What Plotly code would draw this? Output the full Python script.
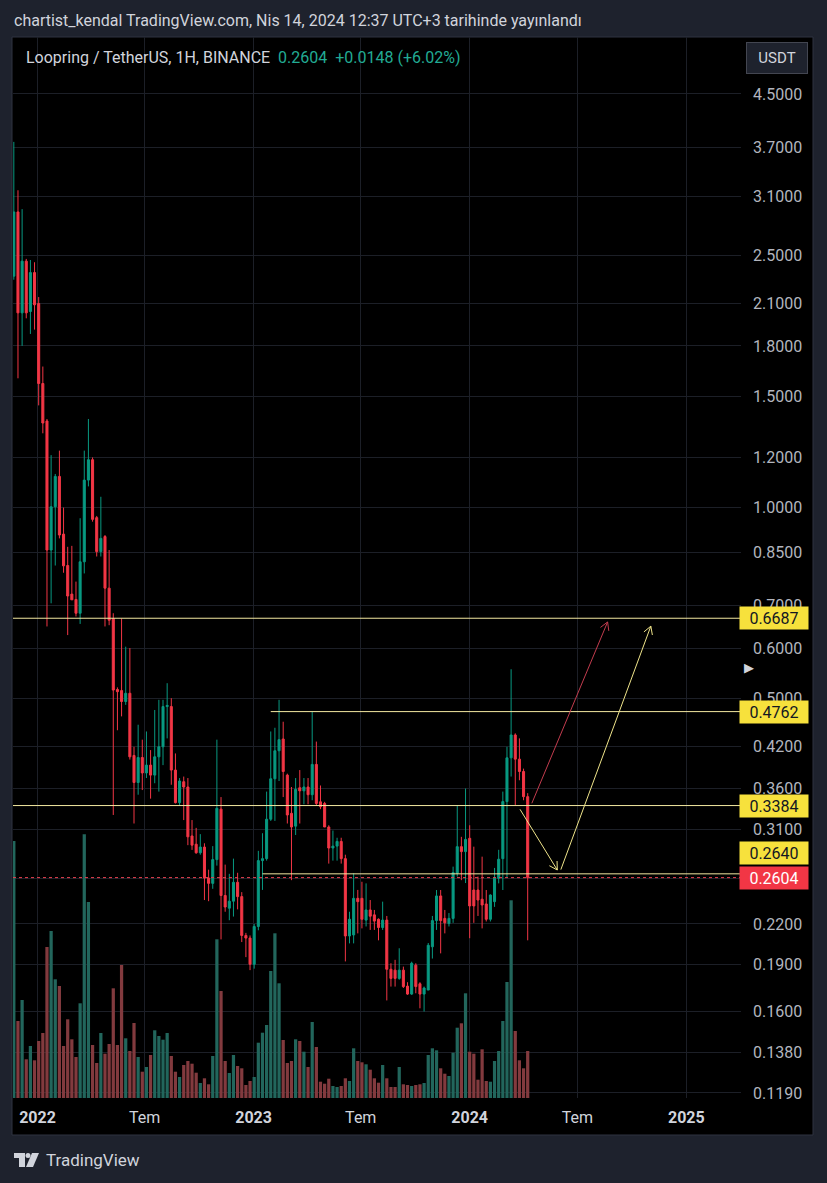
import math
import pandas as pd
import plotly.graph_objects as go

# ---------------- data (weekly candles, LRC/USDT) ----------------
first_week = "2021-11-22"
opens = [2.32, 2.93, 2.03, 2.45, 2.04, 2.35, 2.10, 1.57, 1.37, 0.857,
         1.003, 1.12, 0.908, 0.81, 0.73, 0.716, 0.681, 0.821, 1.105, 1.19,
         0.964, 0.852, 0.90, 0.746, 0.668, 0.516, 0.514, 0.494, 0.509, 0.406,
         0.368, 0.403, 0.381, 0.392, 0.378, 0.404, 0.419, 0.485, 0.485, 0.385,
         0.342, 0.369, 0.362, 0.303, 0.294, 0.285, 0.291, 0.260, 0.255, 0.278,
         0.334, 0.244, 0.233, 0.239, 0.256, 0.243, 0.211, 0.209, 0.190, 0.218,
         0.277, 0.279, 0.322, 0.373, 0.413, 0.431, 0.378, 0.329, 0.314, 0.361,
         0.357, 0.362, 0.352, 0.393, 0.343, 0.341, 0.313, 0.290, 0.292, 0.297,
         0.279, 0.2106, 0.2114, 0.2415, 0.2415, 0.2231, 0.2315, 0.2274, 0.2238, 0.2172,
         0.2231, 0.1866, 0.186, 0.1805, 0.186, 0.1755, 0.1705, 0.1894, 0.177, 0.1705,
         0.173, 0.2025, 0.2227, 0.2436, 0.2245, 0.2203, 0.2245, 0.2645, 0.2914, 0.2862,
         0.3004, 0.2489, 0.2489, 0.2407, 0.2366, 0.2238, 0.2386, 0.2597, 0.279, 0.3433,
         0.4025, 0.4374, 0.4006, 0.383, 0.3495]
highs = [3.78, 3.17, 2.96, 2.47, 2.46, 2.44, 2.15, 1.67, 1.38, 1.21,
         1.13, 1.23, 1.0, 0.867, 0.87, 0.764, 0.962, 1.23, 1.38, 1.2,
         0.97, 1.04, 0.905, 0.857, 0.681, 0.52, 0.668, 0.603, 0.60, 0.419,
         0.454, 0.43, 0.443, 0.414, 0.479, 0.497, 0.497, 0.528, 0.50, 0.409,
         0.374, 0.376, 0.374, 0.321, 0.312, 0.305, 0.295, 0.268, 0.292, 0.43,
         0.349, 0.273, 0.264, 0.279, 0.265, 0.247, 0.213, 0.211, 0.22, 0.287,
         0.306, 0.356, 0.443, 0.449, 0.497, 0.459, 0.380, 0.362, 0.374, 0.385,
         0.374, 0.374, 0.476, 0.427, 0.364, 0.343, 0.315, 0.309, 0.301, 0.301,
         0.283, 0.230, 0.2645, 0.249, 0.2565, 0.255, 0.240, 0.2315, 0.2245, 0.2386,
         0.2265, 0.1907, 0.1931, 0.2014, 0.1884, 0.178, 0.1918, 0.1907, 0.178, 0.1752,
         0.2053, 0.2265, 0.2489, 0.2489, 0.2315, 0.2289, 0.2710, 0.339, 0.302, 0.360,
         0.315, 0.2914, 0.2614, 0.281, 0.2489, 0.245, 0.2697, 0.2881, 0.356, 0.419,
         0.5555, 0.44, 0.432, 0.387, 0.354]
lows = [2.29, 1.60, 1.80, 1.99, 1.88, 1.91, 1.45, 1.31, 0.649, 0.706,
        0.81, 0.894, 0.789, 0.629, 0.715, 0.673, 0.655, 0.787, 1.08, 0.95,
        0.837, 0.837, 0.649, 0.652, 0.327, 0.445, 0.468, 0.488, 0.40, 0.317,
        0.352, 0.358, 0.374, 0.347, 0.367, 0.356, 0.392, 0.432, 0.365, 0.341,
        0.339, 0.321, 0.293, 0.288, 0.284, 0.283, 0.240, 0.239, 0.250, 0.272,
        0.208, 0.230, 0.223, 0.226, 0.232, 0.206, 0.195, 0.186, 0.187, 0.215,
        0.249, 0.277, 0.32, 0.32, 0.37, 0.349, 0.317, 0.258, 0.304, 0.317,
        0.34, 0.34, 0.345, 0.339, 0.334, 0.313, 0.274, 0.277, 0.277, 0.274,
        0.192, 0.205, 0.205, 0.2126, 0.2165, 0.218, 0.2153, 0.2153, 0.2073, 0.2153,
        0.1666, 0.1752, 0.1752, 0.1796, 0.1743, 0.170, 0.170, 0.171, 0.1619, 0.160,
        0.173, 0.194, 0.2153, 0.1977, 0.2126, 0.218, 0.2209, 0.2614, 0.258, 0.2553,
        0.2089, 0.2209, 0.2265, 0.2165, 0.2220, 0.2220, 0.2341, 0.255, 0.2489, 0.26,
        0.376, 0.3391, 0.371, 0.345, 0.2073]
closes = [2.93, 2.03, 2.45, 2.03, 2.35, 2.09, 1.57, 1.36, 0.857, 1.003,
          1.12, 0.905, 0.809, 0.725, 0.715, 0.681, 0.821, 1.105, 1.19, 0.958,
          0.852, 0.894, 0.746, 0.664, 0.515, 0.512, 0.494, 0.509, 0.404, 0.368,
          0.403, 0.381, 0.392, 0.378, 0.404, 0.419, 0.485, 0.487, 0.385, 0.342,
          0.370, 0.362, 0.302, 0.293, 0.285, 0.291, 0.260, 0.255, 0.278, 0.335,
          0.244, 0.234, 0.239, 0.256, 0.243, 0.211, 0.209, 0.19, 0.218, 0.277,
          0.279, 0.322, 0.373, 0.413, 0.430, 0.383, 0.327, 0.313, 0.359, 0.357,
          0.362, 0.352, 0.393, 0.341, 0.337, 0.313, 0.290, 0.292, 0.297, 0.279,
          0.2106, 0.2238, 0.2415, 0.2386, 0.2238, 0.2315, 0.2263, 0.2223, 0.2172, 0.2231,
          0.1866, 0.1805, 0.1805, 0.186, 0.1752, 0.1705, 0.1907, 0.1752, 0.1705, 0.1743,
          0.2036, 0.2227, 0.2436, 0.2227, 0.2209, 0.2245, 0.2652, 0.2914, 0.2862, 0.2992,
          0.2349, 0.2349, 0.240, 0.2357, 0.2238, 0.2444, 0.2597, 0.2784, 0.3433, 0.4025,
          0.4374, 0.4006, 0.383, 0.3495, 0.2604]
volume_m = [257, 77, 98, 38.7, 52, 37.7, 57, 65, 151, 167,
            118.7, 112, 52, 78.7, 58.7, 41, 94.7, 263.7, 196, 53,
            35, 65, 44.3, 54, 109.7, 53, 133, 59.7, 47, 75,
            41, 26.3, 31, 43, 67.7, 62, 58.3, 65, 42, 26.3,
            21, 33, 37, 34.3, 25.3, 15, 19.7, 13.7, 42, 158.7,
            107, 37, 25, 43, 32, 29.7, 13, 17, 21, 55.3,
            65.3, 73, 127, 164.7, 114.7, 58, 35, 37, 58.7, 57,
            46.3, 31, 76, 51, 16.3, 14.3, 19.3, 12, 11, 12,
            19.7, 17, 49.7, 37, 35.7, 33.7, 28.3, 19.7, 15.3, 33,
            19.7, 11, 11, 31, 13.7, 13, 12, 13, 13.7, 15,
            43, 49.7, 47.7, 29.7, 24.3, 22, 45.3, 70.3, 74.7, 104.7,
            46.3, 44.3, 18.3, 48.7, 17, 16.3, 37, 47, 77, 116,
            197.7, 67, 37.7, 29.7, 47]

price_ticks = [4.5, 3.7, 3.1, 2.5, 2.1, 1.8, 1.5, 1.2, 1.0, 0.85, 0.7, 0.6, 0.5,
               0.42, 0.36, 0.31, 0.26, 0.22, 0.19, 0.16, 0.138, 0.119]
hidden_tick_labels = [0.26]
price_tick_text = ["" if v in hidden_tick_labels else f"{v:.4f}" for v in price_ticks]
time_ticks = ["2022-01-01", "2022-07-01", "2023-01-01", "2023-07-01",
              "2024-01-01", "2024-07-01", "2025-01-01"]
time_tick_text = ["<b>2022</b>", "Tem", "<b>2023</b>", "Tem", "<b>2024</b>", "Tem", "<b>2025</b>"]

full_levels = [0.6687, 0.3384]
partial_levels = [0.4762, 0.2640]
partial_starts = ["2023-01-30", "2023-01-16"]
last_price = 0.2604

red_arrow = [("2024-04-15", 0.3412), ("2024-08-21", 0.6597)]
yellow_arrow_down = [("2024-03-26", 0.3338), ("2024-05-28", 0.2677)]
yellow_arrow_up = [("2024-06-03", 0.2681), ("2024-11-02", 0.6497)]

# ---------------- layout geometry ----------------
W, H = 827, 1183
ML, MR, MT, MB = 13, 86, 37, 85
PW, PH = W - ML - MR, H - MT - MB
X_RANGE = ["2021-11-20 14:40", "2025-04-03 07:00"]
Y_MIN, Y_MAX = 0.11684, 5.535

UP, DN = "#089981", "#f23645"
VOL_UP, VOL_DN = "#22665c", "#823a3e"
BG = "#1e222d"
GRID = "#1c1f27"
LINE_Y = "#f3e8a0"
TXT = "#d1d4dc"
FONT = "Roboto"

dates = pd.date_range(first_week, periods=len(closes), freq="7D")
t0, t1 = pd.Timestamp(X_RANGE[0]), pd.Timestamp(X_RANGE[1])
LY0, LY1 = math.log10(Y_MIN), math.log10(Y_MAX)


def to_px(d, p):
    x = ML + (pd.Timestamp(d) - t0) / (t1 - t0) * PW
    y = MT + (LY1 - math.log10(p)) / (LY1 - LY0) * PH
    return x, y


def from_px(x, y):
    d = t0 + (x - ML) / PW * (t1 - t0)
    p = 10 ** (LY1 - (y - MT) / PH * (LY1 - LY0))
    return d, p


def paper(px, py):
    return (px - ML) / PW, (MT + PH - py) / PH


def arrow_xy(start, end, head=9, ang=30):
    x0, y0 = to_px(*start)
    x1, y1 = to_px(*end)
    L = math.hypot(x1 - x0, y1 - y0)
    ux, uy = (x1 - x0) / L, (y1 - y0) / L
    pts = []
    for s in (1, -1):
        a = math.radians(ang) * s
        rx = ux * math.cos(a) - uy * math.sin(a)
        ry = ux * math.sin(a) + uy * math.cos(a)
        pts.append(from_px(x1 - head * rx, y1 - head * ry))
    e = pd.Timestamp(end[0])
    xs = [pd.Timestamp(start[0]), e, None, pts[0][0], e, pts[1][0]]
    ys = [start[1], end[1], None, pts[0][1], end[1], pts[1][1]]
    return xs, ys


fig = go.Figure()

vol_colors = [VOL_UP if c >= o else VOL_DN for o, c in zip(opens, closes)]
fig.add_trace(go.Bar(x=dates, y=volume_m, marker=dict(color=vol_colors, line=dict(width=0)),
                     xaxis="x", yaxis="y", hoverinfo="skip", showlegend=False))

fig.add_trace(go.Candlestick(
    x=dates, open=opens, high=highs, low=lows, close=closes,
    xaxis="x", yaxis="y2", whiskerwidth=0,
    increasing=dict(line=dict(color=UP, width=1), fillcolor=UP),
    decreasing=dict(line=dict(color=DN, width=1), fillcolor=DN),
    showlegend=False, hoverinfo="skip"))

for lvl in full_levels:
    fig.add_trace(go.Scatter(x=[t0, t1], y=[lvl, lvl], mode="lines", yaxis="y2",
                             line=dict(color=LINE_Y, width=1), showlegend=False, hoverinfo="skip"))
for lvl, st in zip(partial_levels, partial_starts):
    fig.add_trace(go.Scatter(x=[pd.Timestamp(st), t1], y=[lvl, lvl], mode="lines", yaxis="y2",
                             line=dict(color=LINE_Y, width=1), showlegend=False, hoverinfo="skip"))
fig.add_trace(go.Scatter(x=[t0, t1], y=[last_price, last_price], mode="lines", yaxis="y2",
                         line=dict(color="#e8404f", width=1, dash="dot"), showlegend=False, hoverinfo="skip"))

for arr, col in [(red_arrow, "#c23c4e"), (yellow_arrow_down, "#efe48a"), (yellow_arrow_up, "#efe48a")]:
    xs, ys = arrow_xy(*arr)
    fig.add_trace(go.Scatter(x=xs, y=ys, mode="lines", yaxis="y2",
                             line=dict(color=col, width=1), showlegend=False, hoverinfo="skip"))

shapes = []
px0, py0 = paper(12, 1135)
px1, py1 = paper(813, 37)
shapes.append(dict(type="rect", xref="paper", yref="paper", x0=px0, y0=py0, x1=px1, y1=py1,
                   fillcolor="#000000", line=dict(color="#2e3240", width=1), layer="below"))


def prect(a, b, c, d, col=TXT):
    x0_, y0_ = paper(a, d)
    x1_, y1_ = paper(c, b)
    return dict(type="rect", xref="paper", yref="paper", x0=x0_, y0=y0_, x1=x1_, y1=y1_,
                fillcolor=col, line=dict(width=0))


# TradingView logo
shapes.append(prect(14, 1153, 25, 1158))
shapes.append(prect(19, 1153, 25, 1167))
cx0, cy0 = paper(25.5, 1158)
cx1, cy1 = paper(30.5, 1153)
shapes.append(dict(type="circle", xref="paper", yref="paper", x0=cx0, y0=cy0, x1=cx1, y1=cy1,
                   fillcolor=TXT, line=dict(width=0)))
p1 = paper(32, 1153); p2 = paper(39, 1153); p3 = paper(33, 1167); p4 = paper(26, 1167)
shapes.append(dict(type="path", xref="paper", yref="paper",
                   path=f"M{p1[0]},{p1[1]} L{p2[0]},{p2[1]} L{p3[0]},{p3[1]} L{p4[0]},{p4[1]} Z",
                   fillcolor=TXT, line=dict(width=0)))

ann = []
hx, hy = paper(12, 20)
ann.append(dict(xref="paper", yref="paper", x=hx, y=hy, xanchor="left", yanchor="middle",
                showarrow=False, font=dict(family=FONT, size=16, color=TXT),
                text="chartist_kendal TradingView.com, Nis 14, 2024 12:37 UTC+3 tarihinde yayınlandı"))
lx, ly = paper(24, 57)
ann.append(dict(xref="paper", yref="paper", x=lx, y=ly, xanchor="left", yanchor="middle",
                showarrow=False, font=dict(family=FONT, size=16, color=TXT),
                text="Loopring / TetherUS, 1H, BINANCE  <span style='color:#22ab94'>0.2604  +0.0148 (+6.02%)</span>"))
ux_, uy_ = paper(777, 58)
ann.append(dict(xref="paper", yref="paper", x=ux_, y=uy_, xanchor="center", yanchor="middle",
                showarrow=False, font=dict(family=FONT, size=15, color=TXT), text="USDT",
                bgcolor="#1e222d", bordercolor="#434651", borderwidth=1, borderpad=4,
                width=52, height=22))
fx, fy = paper(44, 1160)
ann.append(dict(xref="paper", yref="paper", x=fx, y=fy, xanchor="left", yanchor="middle",
                showarrow=False, font=dict(family=FONT, size=17, color=TXT), text="TradingView"))
tx, ty = paper(749, 667)
ann.append(dict(xref="paper", yref="paper", x=tx, y=ty, xanchor="center", yanchor="middle",
                showarrow=False, font=dict(family=FONT, size=13, color=TXT), text="▶"))

for lvl, shift in [(0.6687, 0), (0.4762, 0), (0.3384, 0), (0.2640, 21)]:
    ann.append(dict(xref="paper", yref="y2", x=1, y=math.log10(lvl), xanchor="left", yanchor="middle",
                    xshift=-2, yshift=shift, showarrow=False, text=f"{lvl:.4f}",
                    font=dict(family=FONT, size=16, color="#131722"),
                    bgcolor="#f7e13c", borderpad=2, width=64, height=18, align="center"))
ann.append(dict(xref="paper", yref="y2", x=1, y=math.log10(last_price), xanchor="left", yanchor="middle",
                xshift=-2, showarrow=False, text=f"{last_price:.4f}",
                font=dict(family=FONT, size=16, color="#ffffff"),
                bgcolor=DN, borderpad=2, width=64, height=18, align="center"))

fig.update_layout(
    width=W, height=H, margin=dict(l=ML, r=MR, t=MT, b=MB, pad=0),
    paper_bgcolor=BG, plot_bgcolor="#000000",
    font=dict(family=FONT, color=TXT),
    showlegend=False, bargap=0.22,
    shapes=shapes, annotations=ann,
    xaxis=dict(type="date", range=X_RANGE, showgrid=True, gridcolor=GRID, gridwidth=1,
               tickvals=time_ticks, ticktext=time_tick_text, ticks="outside", ticklen=5,
               tickcolor="rgba(0,0,0,0)", tickfont=dict(family=FONT, size=16, color=TXT),
               showline=False, zeroline=False, rangeslider=dict(visible=False)),
    yaxis=dict(range=[0, max(volume_m) * PH / 263.7], visible=False, showgrid=False, zeroline=False),
    yaxis2=dict(type="log", range=[LY0, LY1], overlaying="y", side="right",
                tickvals=price_ticks, ticktext=price_tick_text, showgrid=True, gridcolor=GRID,
                ticks="", ticklabelstandoff=11, tickfont=dict(family=FONT, size=16, color="#b2b5be"),
                showline=False, zeroline=False),
)

fig.write_html("out.html", config={"displayModeBar": False, "staticPlot": True},
               post_script="document.body.style.margin='0px';document.body.style.overflow='hidden';")
